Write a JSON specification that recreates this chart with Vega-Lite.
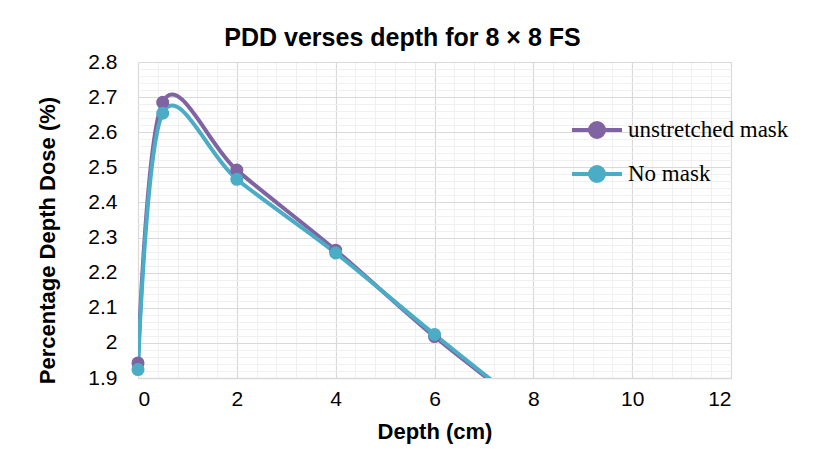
{
  "$schema": "https://vega.github.io/schema/vega-lite/v6.json",
  "width": 593,
  "height": 316,
  "autosize": {"type": "none"},
  "padding": {"left": 138, "top": 62, "right": 82, "bottom": 73},
  "background": "white",
  "title": {
    "text": "PDD verses depth for 8 × 8 FS",
    "font": "Liberation Sans",
    "fontSize": 25,
    "fontWeight": "bold",
    "color": "#000000",
    "anchor": "middle",
    "frame": "group",
    "dx": -32,
    "offset": 0
  },
  "data": {
    "values": [
      {"depth": 0, "pdd": 1.943, "series": "unstretched mask"},
      {"depth": 0.5, "pdd": 2.685, "series": "unstretched mask"},
      {"depth": 2, "pdd": 2.492, "series": "unstretched mask"},
      {"depth": 4, "pdd": 2.264, "series": "unstretched mask"},
      {"depth": 6, "pdd": 2.018, "series": "unstretched mask"},
      {"depth": 8, "pdd": 1.8, "series": "unstretched mask"},
      {"depth": 0, "pdd": 1.924, "series": "No mask"},
      {"depth": 0.5, "pdd": 2.654, "series": "No mask"},
      {"depth": 2, "pdd": 2.466, "series": "No mask"},
      {"depth": 4, "pdd": 2.256, "series": "No mask"},
      {"depth": 6, "pdd": 2.024, "series": "No mask"},
      {"depth": 8, "pdd": 1.8, "series": "No mask"}
    ]
  },
  "resolve": {"axis": {"x": "independent", "y": "independent"}},
  "layer": [
    {
      "mark": {"type": "line", "interpolate": "cardinal", "strokeWidth": 4, "clip": true, "opacity": 0},
      "encoding": {
        "x": {"field": "depth", "type": "quantitative", "scale": {"domain": [0, 12], "nice": false},
          "axis": {"orient": "bottom", "values": [0.4,0.8,1.2,1.6,2.4,2.8,3.2,3.6,4.4,4.8,5.2,5.6,6.4,6.8,7.2,7.6,8.4,8.8,9.2,9.6,10.4,10.8,11.2,11.6], "grid": true, "gridColor": "#f0f0f0", "gridWidth": 1, "labels": false, "ticks": false, "domain": false, "title": null}},
        "y": {"field": "pdd", "type": "quantitative", "scale": {"domain": [1.9, 2.8], "nice": false, "zero": false},
          "axis": {"orient": "left", "values": [1.92,1.94,1.96,1.98,2.02,2.04,2.06,2.08,2.12,2.14,2.16,2.18,2.22,2.24,2.26,2.28,2.32,2.34,2.36,2.38,2.42,2.44,2.46,2.48,2.52,2.54,2.56,2.58,2.62,2.64,2.66,2.68,2.72,2.74,2.76,2.78], "grid": true, "gridColor": "#f0f0f0", "gridWidth": 1, "labels": false, "ticks": false, "domain": false, "title": null}},
        "detail": {"field": "series"}
      }
    },
    {
      "mark": {"type": "line", "interpolate": "cardinal", "strokeWidth": 4, "clip": true},
      "encoding": {
        "x": {"field": "depth", "type": "quantitative",
          "axis": {"orient": "bottom", "values": [0, 2, 4, 6, 8, 10, 12], "grid": true, "gridColor": "#d9d9d9", "gridWidth": 1.2, "ticks": false, "domain": true, "domainColor": "#d9d9d9", "domainWidth": 1.5, "labelFont": "Liberation Sans", "labelFontSize": 21, "labelColor": "#000000", "labelPadding": 10, "title": "Depth (cm)", "titleFont": "Liberation Sans", "titleFontSize": 22, "titleFontWeight": "bold", "titleColor": "#000000", "titlePadding": 12}},
        "y": {"field": "pdd", "type": "quantitative",
          "axis": {"orient": "left", "values": [1.9, 2.0, 2.1, 2.2, 2.3, 2.4, 2.5, 2.6, 2.7, 2.8], "format": "~g", "grid": true, "gridColor": "#d9d9d9", "gridWidth": 1.2, "ticks": false, "domain": false, "labelFont": "Liberation Sans", "labelFontSize": 21, "labelColor": "#000000", "labelPadding": 21, "title": "Percentage Depth Dose (%)", "titleFont": "Liberation Sans", "titleFontSize": 22, "titleFontWeight": "bold", "titleColor": "#000000", "titlePadding": 28, "titleY": 178}},
        "color": {"field": "series", "type": "nominal", "sort": ["unstretched mask", "No mask"],
          "scale": {"domain": ["unstretched mask", "No mask"], "range": ["#8064a2", "#4bacc6"]},
          "legend": {
            "orient": "none", "legendX": 432, "legendY": 41, "title": null, "padding": 0,
            "symbolType": "M-1,0L1,0M0.28,0A0.28,0.28,0,1,1,-0.28,0A0.28,0.28,0,1,1,0.28,0Z",
            "symbolSize": 2500, "symbolStrokeWidth": 4, "rowPadding": 2, "labelOffset": 4, "labelLimit": 400,
            "labelFont": "Liberation Serif", "labelFontSize": 23, "labelColor": "#000000",
            "encode": {"symbols": {"update": {"fill": {"scale": "color", "field": "value"}, "stroke": {"scale": "color", "field": "value"}, "fillOpacity": {"value": 1}}}}
          }}
      }
    },
    {
      "transform": [{"filter": "datum.pdd >= 1.9"}],
      "mark": {"type": "point", "filled": true, "size": 170, "opacity": 1, "clip": false},
      "encoding": {
        "x": {"field": "depth", "type": "quantitative", "axis": null},
        "y": {"field": "pdd", "type": "quantitative", "axis": null},
        "color": {"field": "series", "type": "nominal", "legend": null}
      }
    }
  ],
  "config": {"view": {"stroke": null}}
}
